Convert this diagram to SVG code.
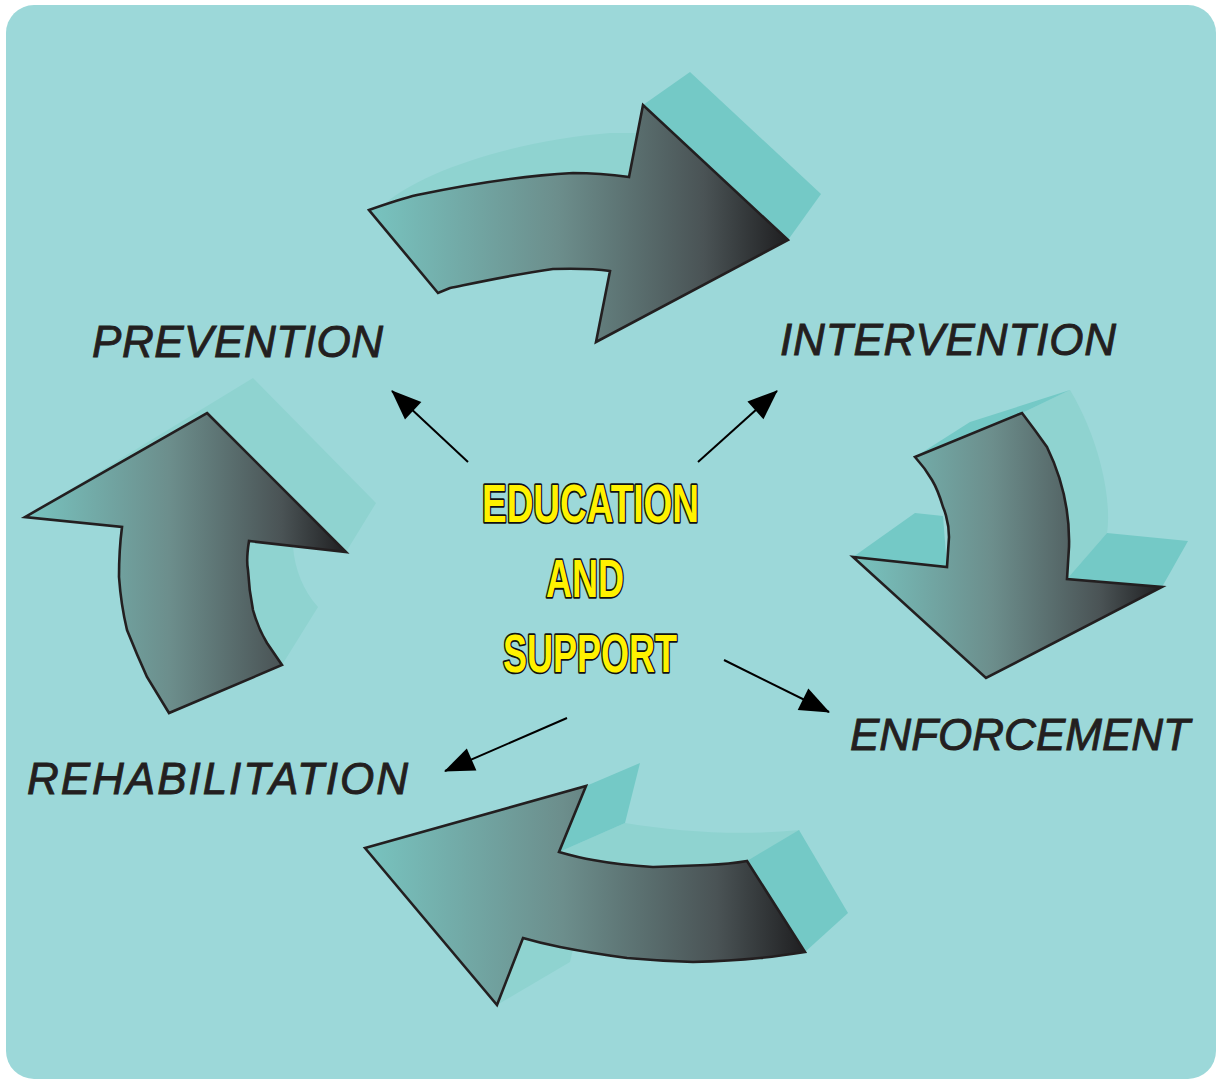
<svg xmlns="http://www.w3.org/2000/svg" width="1224" height="1080" viewBox="0 0 1224 1080">
<style>
.bg{fill:#9cd8d9}
.arrow{stroke:#231f20;stroke-width:2.6;stroke-linejoin:miter}
.side{fill:#74c9c6}
.faint{fill:#8fd3d0}
.label{font-family:"Liberation Sans","DejaVu Sans",sans-serif;font-style:italic;font-size:44px;fill:#231f20;stroke:#231f20;stroke-width:0.9}
.center{font-family:"Liberation Sans Narrow","Liberation Sans",sans-serif;font-weight:bold;font-size:53px;fill:#fff200;stroke:#111;stroke-width:3.6;paint-order:stroke;stroke-linejoin:round}
.conn{stroke:#000;stroke-width:2;fill:none}
</style>
<defs>
<linearGradient id="g" x1="0" y1="0" x2="1" y2="0">
<stop offset="0" stop-color="#78c4c0"/>
<stop offset="0.45" stop-color="#6c8e8c"/>
<stop offset="0.8" stop-color="#4a5355"/>
<stop offset="1" stop-color="#1f1f21"/>
</linearGradient>
<marker id="ah" markerWidth="30" markerHeight="24" viewBox="0 0 30 24" refX="29" refY="12" orient="auto" markerUnits="userSpaceOnUse" style="overflow:visible">
<path d="M0,0 L30,12 L0,24 Z" fill="#000"/>
</marker>
</defs>
<rect class="bg" x="6" y="5" width="1210" height="1074" rx="28"/>

<g id="arrow-top">
<path class="faint" d="M380,208 C420,170 520,140 610,133 L640,133 L629,177 C573,173 517,176 417,195 Z"/>
<path class="side" d="M643,105 L690,72 L821,194 L788,240 Z"/>
<path class="arrow" fill="url(#g)" d="M369,210 C400,199 417,195 417,195 C470,184 517,176 573,173 C600,173 629,177 629,177 L643,105 L788,240 L596,342 L610,271 C590,268 553,269 553,269 C510,275 470,284 450,288 L438,293 Z"/>
</g>

<g id="arrow-right">
<path class="faint" d="M1022,413 L1070,390 C1100,440 1112,500 1107,533 L1067,579 L1069,547 C1070,513 1063,480 1047,447 Z"/>
<path class="side" d="M915,457 L970,422 L1070,390 L1022,413 Z"/>
<path class="side" d="M853,557 L915,513 L943,516 L947,567 Z"/>
<path class="side" d="M1067,579 L1107,533 L1188,541 L1162,587 Z"/>
<path class="arrow" fill="url(#g)" d="M915,457 L1022,413 C1035,430 1047,447 1047,447 C1063,480 1070,513 1069,547 L1067,579 L1162,587 L986,678 L853,557 L947,567 L949,537 C949,520 943,507 943,507 C938,490 932,480 932,480 C925,468 915,457 915,457 Z"/>
</g>

<g id="arrow-left">
<path class="faint" d="M25,517 L253,378 L376,503 L346,552 Z"/>
<path class="faint" d="M249,541 L293,547 C295,570 303,590 318,607 L282,665 L267,643 C258,628 253,610 253,610 C249,590 248,570 248,570 Z"/>
<path class="arrow" fill="url(#g)" d="M207,413 L346,552 L249,541 C246,560 248,570 248,570 C249,590 253,610 253,610 C258,628 267,643 267,643 L282,665 L169,713 C158,695 147,677 147,677 C137,655 127,630 127,630 C121,605 119,577 119,577 C119,550 122,527 122,527 L25,517 Z"/>
</g>

<g id="arrow-bottom">
<path class="faint" d="M559,852 L625,823 C680,832 740,836 800,830 L760,868 C740,862 720,866 707,865 C680,866 653,867 593,860 Z"/>
<path class="faint" d="M497,1005 L570,962 L574,945 L523,938 Z"/>
<path class="side" d="M586,786 L640,763 L625,823 L559,852 Z"/>
<path class="side" d="M747,861 L799,830 L848,913 L805,952 Z"/>
<path class="arrow" fill="url(#g)" d="M365,848 L586,786 L559,852 C580,858 593,860 593,860 C620,865 653,867 653,867 C680,866 707,865 707,865 C730,864 747,861 747,861 L805,952 C780,956 760,958 760,958 C730,961 693,962 693,962 C660,961 627,958 627,958 C590,953 560,947 560,947 C540,943 523,938 523,938 L497,1005 Z"/>
</g>

<g id="connectors">
<line class="conn" x1="468" y1="462" x2="392" y2="391" marker-end="url(#ah)"/>
<line class="conn" x1="698" y1="462" x2="777" y2="391" marker-end="url(#ah)"/>
<line class="conn" x1="724" y1="660" x2="829" y2="712" marker-end="url(#ah)"/>
<line class="conn" x1="567" y1="718" x2="445" y2="771" marker-end="url(#ah)"/>
</g>

<g id="prevention"><text class="label" x="92" y="357" textLength="291" lengthAdjust="spacing">PREVENTION</text></g>
<g id="intervention"><text class="label" x="780" y="355" textLength="336" lengthAdjust="spacing">INTERVENTION</text></g>
<g id="enforcement"><text class="label" x="850" y="750" textLength="340" lengthAdjust="spacing">ENFORCEMENT</text></g>
<g id="rehabilitation"><text class="label" x="27" y="794" textLength="381" lengthAdjust="spacing">REHABILITATION</text></g>

<g id="education-support">
<text class="center" x="482" y="522" textLength="217" lengthAdjust="spacingAndGlyphs">EDUCATION</text>
<text class="center" x="546" y="597" textLength="78" lengthAdjust="spacingAndGlyphs">AND</text>
<text class="center" x="503" y="672" textLength="174" lengthAdjust="spacingAndGlyphs">SUPPORT</text>
</g>
</svg>
